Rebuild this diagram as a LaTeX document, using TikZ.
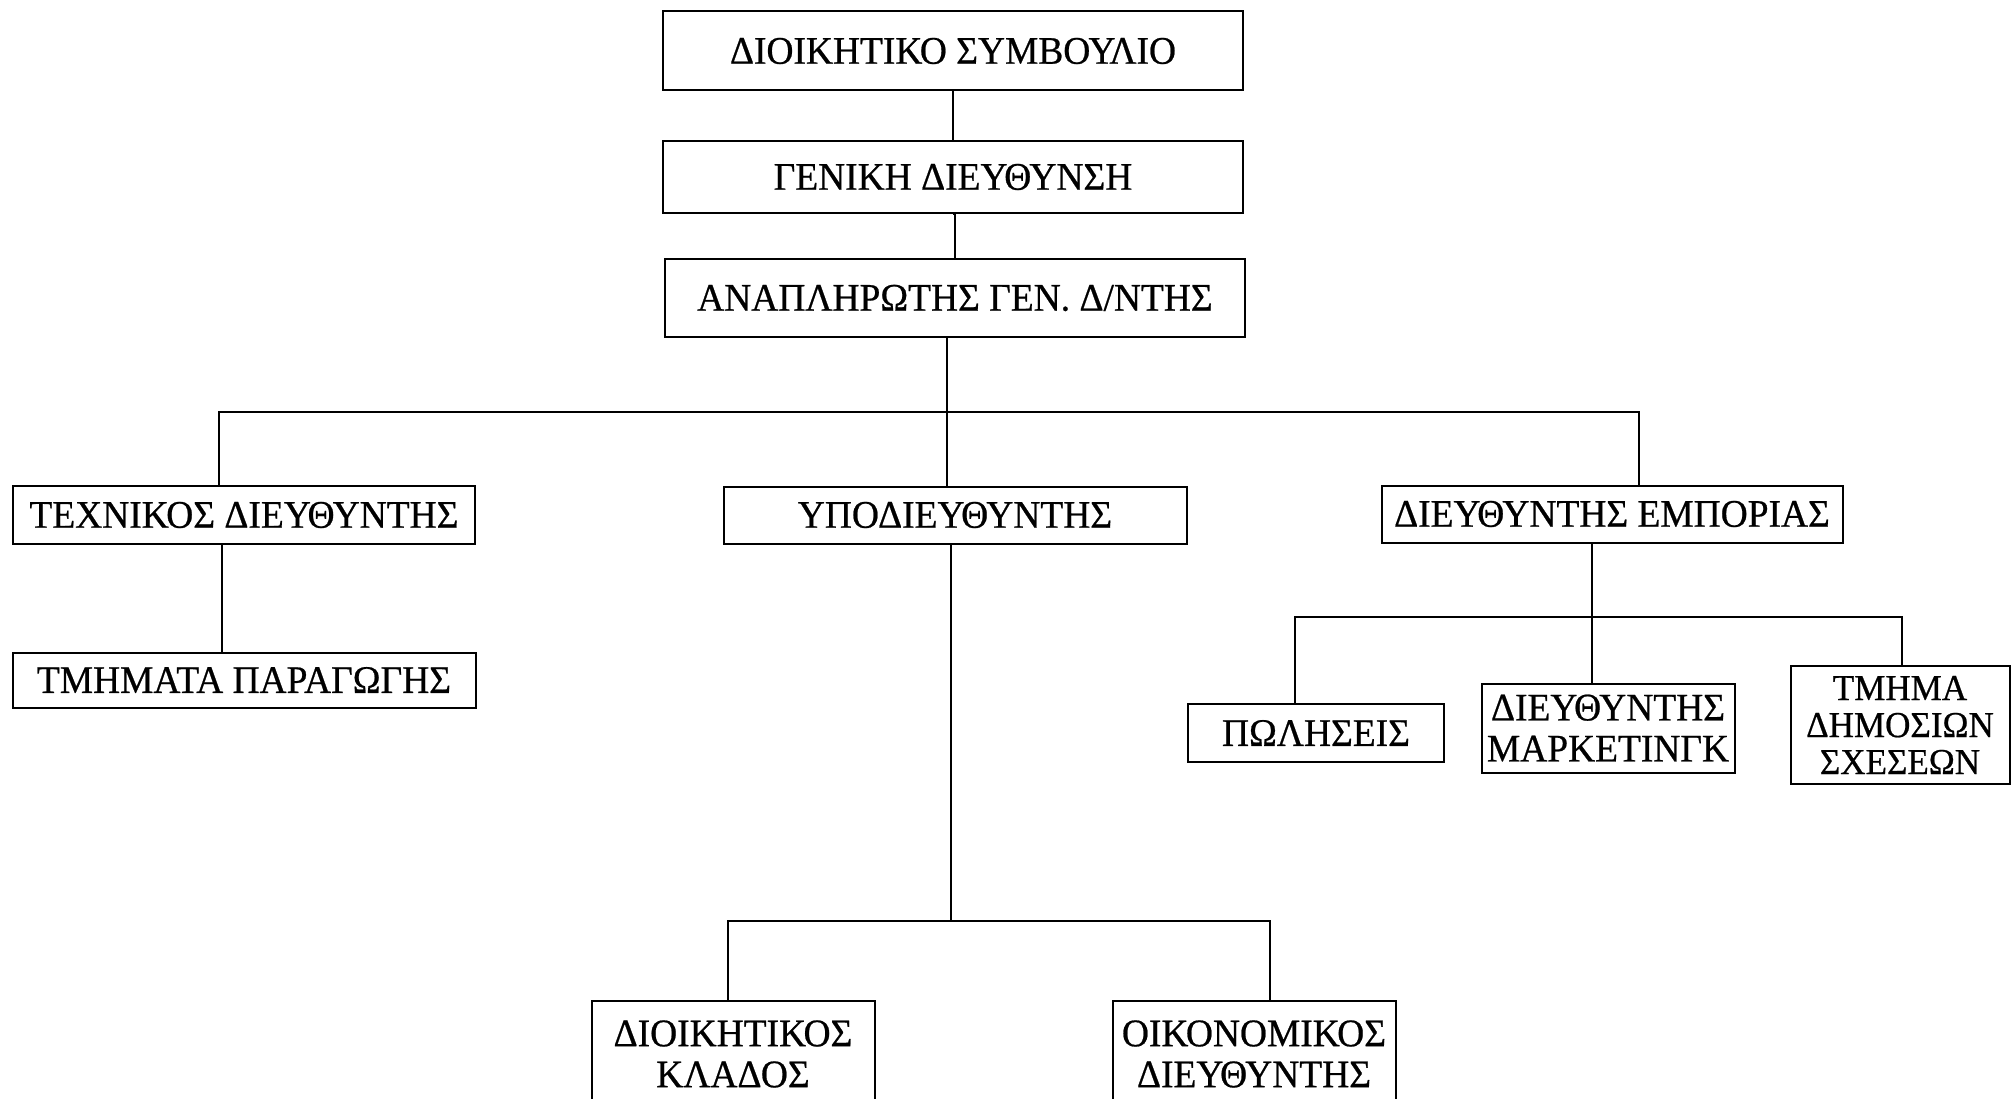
\documentclass[tikz,border=0pt]{standalone}
\usepackage{fontspec}
\setmainfont{Liberation Serif}
\newfontfamily\boxfont[FakeBold=0.6,FakeStretch=0.96]{Liberation Serif}
\begin{document}
\begin{tikzpicture}[x=1pt,y=-1pt,
  orgbox/.style={draw, line width=2pt, inner sep=0pt, align=center,
    font=\boxfont\fontsize{39}{41}\selectfont},
  conn/.style={line width=2pt}]
\useasboundingbox[fill=white] (0,0) rectangle (2012,1099);
% boxes: center, width, height
\node[orgbox, minimum width=580, minimum height=79] (b1) at (953,51) {ΔΙΟΙΚΗΤΙΚΟ ΣΥΜΒΟΥΛΙΟ};
\node[orgbox, minimum width=580, minimum height=72] (b2) at (953,177) {ΓΕΝΙΚΗ ΔΙΕΥΘΥΝΣΗ};
\node[orgbox, minimum width=580, minimum height=78] (b3) at (955,298) {ΑΝΑΠΛΗΡΩΤΗΣ ΓΕΝ. Δ/ΝΤΗΣ};
\node[orgbox, minimum width=462, minimum height=58] (b4) at (244,515) {ΤΕΧΝΙΚΟΣ ΔΙΕΥΘΥΝΤΗΣ};
\node[orgbox, minimum width=463, minimum height=57] (b5) at (955,515) {ΥΠΟΔΙΕΥΘΥΝΤΗΣ};
\node[orgbox, minimum width=461, minimum height=57] (b6) at (1612,514) {ΔΙΕΥΘΥΝΤΗΣ ΕΜΠΟΡΙΑΣ};
\node[orgbox, minimum width=463, minimum height=55] (b7) at (244,680) {ΤΜΗΜΑΤΑ ΠΑΡΑΓΩΓΗΣ};
\node[orgbox, minimum width=256, minimum height=58] (b9) at (1316,733) {ΠΩΛΗΣΕΙΣ};
\node[orgbox, minimum width=253, minimum height=89] (b10) at (1608,728) {ΔΙΕΥΘΥΝΤΗΣ\\ΜΑΡΚΕΤΙΝΓΚ};
\node[orgbox, minimum width=219, minimum height=118, font=\boxfont\fontsize{36.5}{37}\selectfont] (b11) at (1900,725) {ΤΜΗΜΑ\\ΔΗΜΟΣΙΩΝ\\ΣΧΕΣΕΩΝ};
\node[orgbox, minimum width=283, minimum height=106] (b13) at (733,1054) {ΔΙΟΙΚΗΤΙΚΟΣ\\ΚΛΑΔΟΣ};
\node[orgbox, minimum width=283, minimum height=106] (b14) at (1254,1054) {ΟΙΚΟΝΟΜΙΚΟΣ\\ΔΙΕΥΘΥΝΤΗΣ};
% bus coordinates
\coordinate (busA) at (219,412);
\coordinate (busB) at (1639,412);
\coordinate (midA) at (947,412);
\coordinate (t7) at (222,600);
\coordinate (busC) at (1295,617);
\coordinate (busD) at (1592,617);
\coordinate (busE) at (1902,617);
\coordinate (busF) at (728,921);
\coordinate (busG) at (951,921);
\coordinate (busH) at (1270,921);
% connectors
\draw[conn] (b1.south) -- (b2.north);
\draw[conn] (b2.south) -- (b3.south |- b2.south) -- (b3.north);
\draw[conn] (midA |- b3.south) -- (midA) -- (midA |- b5.north);
\draw[conn] (busA |- b4.north) -- (busA) -- (busB) -- (busB |- b6.north);
\draw[conn] (t7 |- b4.south) -- (t7 |- b7.north);
\draw[conn] (busD |- b6.south) -- (busD) -- (busD |- b10.north);
\draw[conn] (busC |- b9.north) -- (busC) -- (busE) -- (busE |- b11.north);
\draw[conn] (busG |- b5.south) -- (busG);
\draw[conn] (busF |- b13.north) -- (busF) -- (busH) -- (busH |- b14.north);
\end{tikzpicture}
\end{document}
